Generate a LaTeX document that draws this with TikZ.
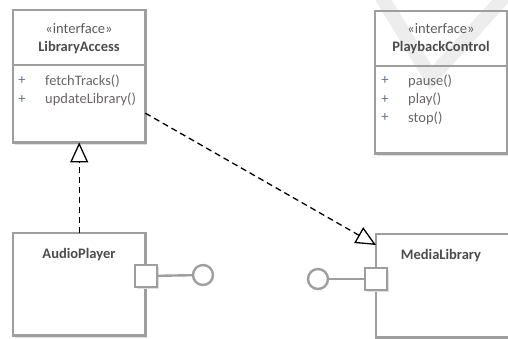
\documentclass[tikz,border=0pt]{standalone}
\usepackage{fontspec}
\setmainfont{Carlito}
\usepackage{tikz}
\usetikzlibrary{arrows.meta,shadows}
\definecolor{boxgray}{rgb}{0.62,0.62,0.62}
\definecolor{namegray}{rgb}{0.3,0.3,0.3}
\definecolor{stereogray}{rgb}{0.36,0.36,0.36}
\definecolor{opgray}{rgb}{0.42,0.4,0.4}
\definecolor{plusblue}{rgb}{0.4,0.45,0.56}
\definecolor{markgray}{rgb}{0.93,0.93,0.93}

\begin{document}
\begin{tikzpicture}[x=1pt, y=-1pt,
    umlbox/.style={fill=white, inner sep=0pt, anchor=north west,
        drop shadow={shadow xshift=2pt, shadow yshift=-3pt, fill=black!12, opacity=1}},
    boxline/.style={draw=boxgray, line width=2.6pt},
    stereo/.style={text=stereogray, font=\fontsize{14.5}{17}\selectfont},
    boxname/.style={text=namegray, font=\fontsize{14.5}{17}\selectfont\bfseries},
    plusmark/.style={text=plusblue, font=\fontsize{14.5}{17}\selectfont},
    opname/.style={text=opgray, font=\fontsize{14.5}{17}\selectfont, anchor=west, inner sep=0pt},
    port/.style={draw=boxgray, line width=2.4pt, fill=white, minimum size=22pt, inner sep=0pt,
        drop shadow={shadow xshift=1.5pt, shadow yshift=-2pt, fill=black!12, opacity=1}},
    ball/.style={draw=boxgray, line width=2.4pt, fill=white, circle, minimum size=20pt, inner sep=0pt},
    lolli/.style={draw=boxgray, line width=2.4pt},
    realize/.style={black, line width=1.3pt, dash pattern=on 6pt off 4pt,
        -{Triangle[open, length=20pt, width=18pt, line width=1.3pt]}}
]
    % Keep the page at the size of the reference (origin top left)
    \useasboundingbox (0,0) rectangle (508,338);

    % Box bodies (filled, shadowed)
    \node[umlbox, minimum width=132pt, minimum height=132pt] (libacc) at (13,10) {};
    \node[umlbox, minimum width=132pt, minimum height=142pt] (playctl) at (375,11) {};
    \node[umlbox, minimum width=132pt, minimum height=102pt] (audio) at (13,233) {};
    \node[umlbox, minimum width=140pt, minimum height=103pt] (media) at (376,234) {};

    % Faint watermark
    \draw[markgray, line width=14pt] (381,-4) -- (431,78) -- (505,-4);

    % Box outlines and compartments
    \foreach \b in {libacc, playctl, audio, media}
        \draw[boxline] (\b.north west) rectangle (\b.south east);
    \draw[boxline] (libacc.west |- 0,65) -- (libacc.east |- 0,65);
    \draw[boxline] (playctl.west |- 0,66) -- (playctl.east |- 0,66);

    % Interface LibraryAccess
    \node[stereo] (libacc-st) at (79,29) {«interface»};
    \node[boxname] (libacc-name) at (79,48) {LibraryAccess};
    \foreach \op [count=\i] in {fetchTracks(), updateLibrary()}
    {
        \node[plusmark] (libacc-plus\i) at (22,{81+18.5*(\i-1)}) {+};
        \node[opname] (libacc-op\i) at (45,{81+18.5*(\i-1)}) {\op};
    }

    % Interface PlaybackControl
    \node[stereo] (playctl-st) at (441,29) {«interface»};
    \node[boxname] (playctl-name) at (441,48) {PlaybackControl};
    \foreach \op [count=\i] in {pause(), play(), stop()}
    {
        \node[plusmark] (playctl-plus\i) at (385,{81+18.5*(\i-1)}) {+};
        \node[opname] (playctl-op\i) at (408,{81+18.5*(\i-1)}) {\op};
    }

    % Component AudioPlayer with its port
    \node[boxname] (audio-name) at (79,255) {AudioPlayer};
    \node[port] (audio-port) at (146,276) {};
    \node[ball] (audio-ball) at (203,275) {};
    \draw[lolli] (audio-port) -- (audio-ball);

    % Component MediaLibrary with its port
    \node[boxname] (media-name) at (441,256) {MediaLibrary};
    \node[port] (media-port) at (376,279) {};
    \node[ball] (media-ball) at (318,279) {};
    \draw[lolli] (media-ball) -- (media-port);

    % Realizations
    \draw[realize] (audio) -- (libacc);
    \draw[realize] ([yshift=-37pt]libacc.east) -- ([yshift=-11pt]media.north west);
\end{tikzpicture}
\end{document}
